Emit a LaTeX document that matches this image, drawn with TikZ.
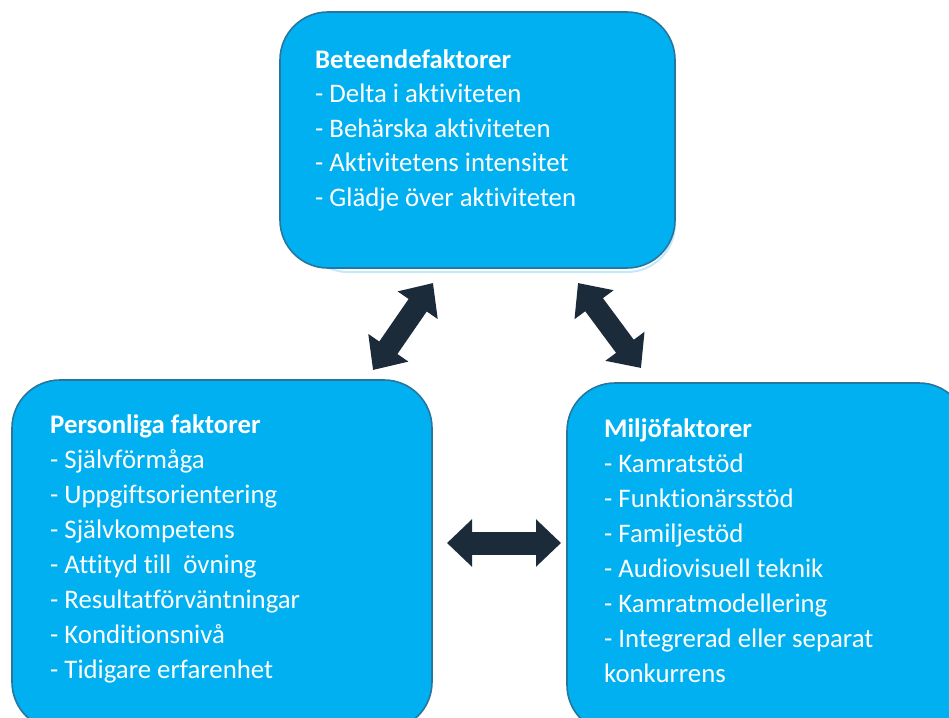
\documentclass[tikz,border=0pt]{standalone}
\usepackage{fontspec}
\setmainfont{Carlito}[Ligatures=NoCommon]
\usetikzlibrary{arrows.meta}
\definecolor{boxfill}{RGB}{0,176,240}
\definecolor{boxline}{RGB}{38,118,160}
\definecolor{arrowc}{RGB}{28,43,57}
\definecolor{shadowc}{RGB}{195,232,250}
\tikzset{
  box/.style={draw=boxline, line width=1.6pt, fill=boxfill, rounded corners=48pt, inner sep=0pt},
  item/.style={text=white, font=\fontsize{26.8}{30}\selectfont, inner sep=0pt, anchor=base west},
  title/.style={item, font=\fontsize{26.8}{30}\selectfont\bfseries},
  dbl/.style={draw=arrowc, line width=22pt, {Triangle[length=27pt,width=47pt]}-{Triangle[length=27pt,width=47pt]}}
}
\begin{document}
\begin{tikzpicture}[x=1pt,y=-1pt]
\useasboundingbox (0,0) rectangle (949,717);
\clip (0,0) rectangle (949,717);
\fill[white] (0,0) rectangle (949,717);
% shadow of top box
\draw[shadowc, line width=2pt, rounded corners=48pt] (300,16) rectangle (675,272);
% boxes
\node[box, minimum width=395pt, minimum height=256pt] (topbox) at (477.5,140) {};
\node[box, minimum width=420pt, minimum height=350pt] (leftbox) at (222,555) {};
\node[box, minimum width=400pt, minimum height=350pt] (rightbox) at (767,558) {};
% top texts
\node[title] (t0) at (315,68) {Beteendefaktorer};
\foreach \t [count=\i] in {- Delta i aktiviteten, - Behärska aktiviteten, - Aktivitetens intensitet, - Glädje över aktiviteten}
  \node[item] (t\i) at (315,{68+34.5*\i}) {\t};
% left texts
\node[title] (l0) at (50,433) {Personliga faktorer};
\foreach \t [count=\i] in {- Självförmåga, - Uppgiftsorientering, - Självkompetens, - Attityd till\ \ övning, - Resultatförväntningar, - Konditionsnivå, - Tidigare erfarenhet}
  \node[item] (l\i) at (50,{433+35.1*\i}) {\t};
% right texts
\node[title] (r0) at (604,437) {Miljöfaktorer};
\foreach \t [count=\i] in {- Kamratstöd, - Funktionärsstöd, - Familjestöd, - Audiovisuell teknik, - Kamratmodellering, - Integrerad eller separat, konkurrens}
  \node[item] (r\i) at (604,{437+35.1*\i}) {\t};
% arrow end points
\coordinate (a1s) at (373,370);
\coordinate (a1e) at (433,283);
\coordinate (a2s) at (578,283);
\coordinate (a2e) at (641,368);
\coordinate (a3s) at (447,543);
\coordinate (a3e) at (561,543);
\draw[dbl] (a1s) -- (a1e);
\draw[dbl] (a2s) -- (a2e);
\draw[dbl, line width=23pt, {Triangle[length=25pt,width=46pt]}-{Triangle[length=25pt,width=46pt]}] (a3s) -- (a3e);
\end{tikzpicture}
\end{document}
